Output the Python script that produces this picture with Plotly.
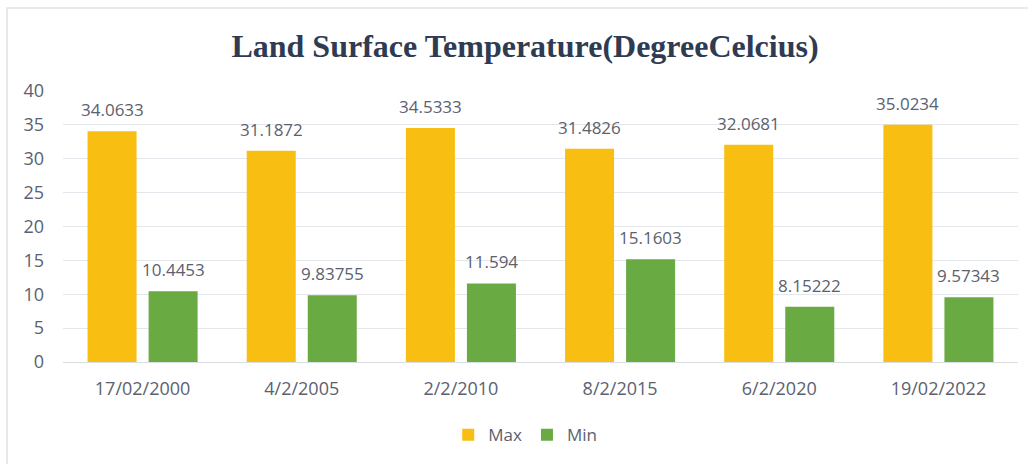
import plotly.graph_objects as go

# Land surface temperature per acquisition date
dates = ["17/02/2000", "4/2/2005", "2/2/2010", "8/2/2015", "6/2/2020", "19/02/2022"]
max_temp = [34.0633, 31.1872, 34.5333, 31.4826, 32.0681, 35.0234]
min_temp = [10.4453, 9.83755, 11.594, 15.1603, 8.15222, 9.57343]
y_ticks = [0, 5, 10, 15, 20, 25, 30, 35, 40]

TEXT = "#5b6170"
FONT = "Open Sans"

fig = go.Figure()
fig.add_trace(go.Bar(name="Max", x=dates, y=max_temp,
                     marker=dict(color="#F9BE12", line=dict(width=0))))
fig.add_trace(go.Bar(name="Min", x=dates, y=min_temp,
                     marker=dict(color="#6AAA42", line=dict(width=0))))

# value labels above each bar, offset to the bar's slot in the group
for vals, dx in ((max_temp, -30.5), (min_temp, 30.5)):
    for d, v in zip(dates, vals):
        fig.add_annotation(x=d, y=v, text=f"{v:g}", showarrow=False,
                           xshift=dx, yshift=8, yanchor="bottom",
                           font=dict(family=FONT, size=17, color=TEXT))

# thin frame around the chart area
fig.add_shape(type="rect", xref="paper", yref="paper",
              x0=-0.0586, x1=1.03, y0=-0.45, y1=1.306,
              line=dict(color="#dfe2e6", width=1.5), layer="below")

fig.update_layout(
    width=1028, height=464,
    margin=dict(l=63, r=10, t=91, b=102),
    paper_bgcolor="white", plot_bgcolor="white",
    title=dict(text="<b>Land Surface Temperature(DegreeCelcius)</b>",
               x=525 / 1028, xanchor="center", y=1 - 46 / 464, yanchor="middle",
               font=dict(family="Liberation Serif", size=32, color="#2f3b52")),
    barmode="group", bargap=0.233, bargroupgap=0.197,
    showlegend=True,
    legend=dict(orientation="h", x=0.484, xanchor="center", y=-0.27, yanchor="middle",
                font=dict(family=FONT, size=17, color=TEXT)),
    xaxis=dict(showgrid=False, showline=False, ticks="", ticklabelstandoff=14,
               tickfont=dict(family=FONT, size=18, color=TEXT)),
    yaxis=dict(range=[0, 40], tickvals=y_ticks, showgrid=True, gridcolor="#e3e6ea",
               gridwidth=1.2, zeroline=True, zerolinecolor="#d9dce1", zerolinewidth=1.2,
               ticks="", ticklabelstandoff=18,
               tickfont=dict(family=FONT, size=18, color=TEXT)),
)

fig.write_html("out.html")
